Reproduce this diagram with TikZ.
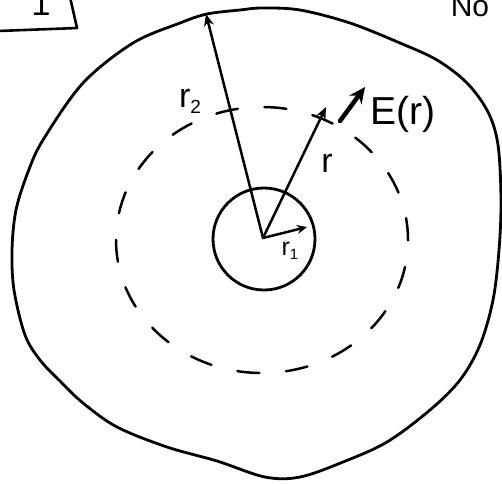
\documentclass[tikz,border=0pt]{standalone}
\usepackage{fontspec}
\setmainfont{Liberation Sans}
\usetikzlibrary{arrows.meta,shapes.geometric}
\begin{document}
\begin{tikzpicture}[x=1pt,y=-1pt,line cap=round,line join=round,
  stroke/.style={line width=2.8pt},
  arr/.style={line width=2.5pt,-{Stealth[length=12pt,width=10pt]}},
  bigarr/.style={line width=4.5pt,-{Stealth[length=16pt,width=15pt]}},
  lab/.style={inner sep=0pt},
  dashring/.style={line width=2.5pt,dash pattern=on 22pt off 26.7pt}]
\useasboundingbox (0,0) rectangle (502,483);

% box in the top-left corner
\coordinate (bxA) at (-2,31);
\coordinate (bxB) at (77,28);
\coordinate (bxC) at (70,-3);
\draw[line width=2.6pt] (bxA) -- (bxB) -- (bxC);
\node[lab,anchor=base,font=\fontsize{34}{36}\selectfont] (num) at (41,15) {1};
\node[lab,anchor=base,font=\fontsize{30}{32}\selectfont] (no) at (470,16) {No};

% outer boundary
\draw[stroke] plot[smooth cycle,tension=0.55] coordinates {
 (207,14) (240,10) (262,8) (300,10) (350,23) (400,43) (437,60) (467,83)
 (488,112) (498,145) (501,200) (499,250) (493,300) (480,345) (460,380)
 (430,410) (387,442) (343,462) (300,477) (265,477) (217,461) (167,447)
 (117,427) (83,403) (60,381) (40,360) (25,335) (14,290) (12,250) (16,210)
 (28,172) (43,140) (83,83) (133,43) (180,23)};

% dashed Gaussian surface
\node[ellipse,draw,dashring,minimum width=292pt,minimum height=266pt,inner sep=0pt] (gauss) at (262,240) {};

% inner sphere
\node[circle,draw,stroke,minimum size=102pt,inner sep=0pt] (inner) at (264,239) {};

% radii
\coordinate (O) at (263,238);
\coordinate (T2) at (206,14);
\coordinate (TR) at (326,107);
\coordinate (T1) at (307,227);
\draw[arr] (O) -- (T2);
\draw[arr] (O) -- (TR);
\draw[arr,-{Stealth[length=10pt,width=9pt]}] (O) -- (T1);

% field arrow
\coordinate (E0) at (340,121);
\coordinate (E1) at (365,87);
\draw[bigarr] (E0) -- (E1);

% labels
\node[lab,font=\fontsize{34}{36}\selectfont] (lr2) at (190,101) {r\raisebox{-6pt}{\fontsize{19}{19}\selectfont 2}};
\node[lab,font=\fontsize{34}{36}\selectfont] (lr) at (327,163) {r};
\node[lab,font=\fontsize{25}{27}\selectfont] (lr1) at (290,251) {r\raisebox{-4pt}{\fontsize{15}{15}\selectfont 1}};
\node[lab,font=\fontsize{39}{41}\selectfont] (lE) at (403,114) {E(r)};
\end{tikzpicture}
\end{document}
